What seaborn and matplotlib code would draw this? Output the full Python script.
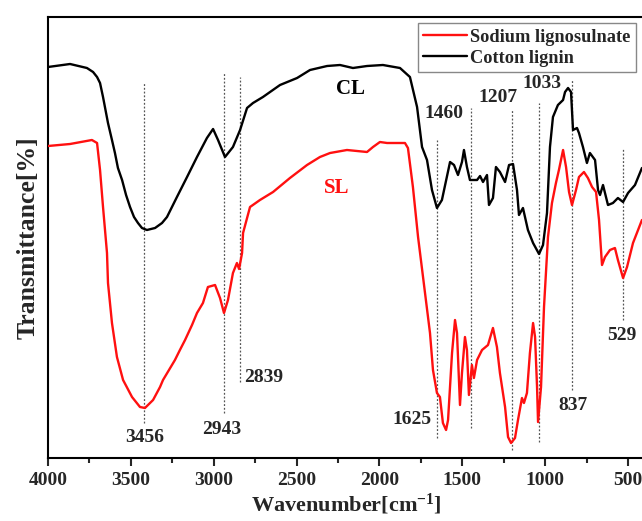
import numpy as np
import pandas as pd
import matplotlib
matplotlib.use("Agg")
import matplotlib.pyplot as plt
import seaborn as sns

# ---- data (wavenumber in cm^-1, transmittance in arbitrary units) ----
cl_wn = [4000, 3867, 3765, 3728, 3704, 3686, 3668, 3638, 3614, 3596, 3578, 3553, 3529, 3505,
         3481, 3457, 3433, 3403, 3354, 3312, 3282, 3252, 3222,
         3161, 3101, 3041, 3004, 2974, 2932, 2884, 2841, 2799, 2763, 2703, 2600, 2497, 2419,
         2316, 2238, 2160, 2075, 1979, 1876, 1816, 1773, 1743, 1713, 1683, 1653, 1623, 1574,
         1550, 1526, 1502, 1490, 1472, 1454, 1411, 1393, 1375, 1351, 1339, 1315, 1297, 1273,
         1242, 1218, 1194, 1170, 1158, 1134, 1104, 1073, 1037, 1013, 989, 971, 953, 923, 892,
         880, 862, 844, 832, 808, 796, 772, 748, 730, 699, 681, 669, 651, 621, 591, 561, 530,
         500, 458, 416]
cl_t = [391, 394, 390, 386, 381, 375, 361, 335, 318, 305, 290, 278, 263, 251,
        241, 235, 230, 228, 230, 235, 241, 251, 261,
        281, 301, 320, 329, 318, 301, 311, 328, 350, 355, 361, 373, 380, 388,
        392, 393, 390, 392, 393, 390, 381, 351, 311, 298, 268, 250, 258, 296,
        293, 283, 296, 308, 291, 278, 278, 282, 276, 283, 253, 260, 291, 286,
        276, 293, 294, 268, 243, 250, 228, 215, 204, 213, 245, 311, 341, 353, 358,
        366, 370, 366, 328, 330, 325, 311, 295, 305, 298, 268, 263, 273, 253, 255, 260, 256,
        265, 273, 290]

sl_wn = [4000, 3867, 3735, 3704, 3686, 3668, 3644, 3638, 3614, 3584, 3547, 3493, 3445, 3415,
         3366, 3324, 3306, 3234, 3204, 3173, 3131, 3101, 3065, 3035, 2992, 2962, 2938, 2914,
         2884, 2860, 2847, 2829, 2823, 2781, 2721, 2642, 2540, 2437, 2359, 2298, 2196, 2075,
         2039, 1997, 1954,
         1846, 1828, 1798, 1767, 1725, 1695, 1677, 1653, 1635, 1617, 1598, 1586, 1562, 1544,
         1532, 1514, 1502, 1484, 1472, 1460, 1442, 1430, 1411, 1381, 1345, 1315, 1291, 1273,
         1242, 1224, 1206, 1182, 1164, 1140, 1128, 1110, 1092, 1073, 1061, 1049, 1043, 1025,
         1007, 983, 959, 935, 917, 892, 874, 856, 838, 814, 796, 766, 742, 717, 693, 675,
         657, 639, 609, 579, 561, 530, 506, 470, 416]
sl_t = [312, 314, 318, 315, 288, 251, 205, 175, 135, 101, 78, 61, 51, 50,
        58, 71, 78, 98, 108, 118, 133, 145, 155, 171, 173, 160, 145, 158,
        185, 195, 189, 205, 225, 251, 258, 266, 280, 293, 301, 305, 308, 306,
        311, 316, 315,
        315, 310, 271, 221, 165, 125, 88, 65, 61, 35, 28, 38, 105, 138,
        125, 53, 85, 121, 108, 63, 93, 80, 98, 108, 113, 130, 111, 85,
        51, 21, 15, 20, 38, 60, 55, 65, 105, 135, 121, 71, 36, 71,
        151, 221, 255, 275, 288, 308, 291, 266, 253, 268, 281, 286, 280, 271, 266, 238,
        193, 201, 208, 210, 198, 180, 191, 215, 238]

series_names = ["Sodium lignosulnate", "Cotton lignin"]
series_colors = ["#ff1010", "#000000"]

# marker (dotted) lines: wavenumber, lower end, upper end
mark_wn = [3421, 2938, 2842, 1653, 1448, 1200, 1037, 838, 530]
mark_lo = [35, 45, 76, 20, 30, 8, 16, 68, 138]
mark_hi = [375, 386, 381, 318, 350, 348, 355, 378, 310]

# peak labels: text, wavenumber, height
peak_text = ["3456", "2943", "2839", "1625", "837", "529", "1460", "1207", "1033"]
peak_wn = [3415, 2950, 2697, 1804, 832, 536, 1611, 1285, 1019]
peak_t = [20, 28, 80, 38, 53, 122, 345, 361, 375]

curve_text = ["CL", "SL"]
curve_wn = [2172, 2256]
curve_t = [369, 270]
curve_col = ["#000000", "#ff1010"]

x_ticks = [4000, 3500, 3000, 2500, 2000, 1500, 1000, 500]

# ---- build table ----
df = pd.concat([
    pd.DataFrame({"wn": sl_wn, "T": sl_t, "sample": series_names[0]}),
    pd.DataFrame({"wn": cl_wn, "T": cl_t, "sample": series_names[1]}),
], ignore_index=True)

sns.set_theme(style="white")
plt.rcParams["font.family"] = ["Liberation Serif", "DejaVu Serif"]
plt.rcParams["font.weight"] = "bold"
plt.rcParams["mathtext.fontset"] = "custom"
plt.rcParams["mathtext.rm"] = "Liberation Serif:bold"
plt.rcParams["mathtext.bf"] = "Liberation Serif:bold"
plt.rcParams["mathtext.default"] = "bf"

fig = plt.figure(figsize=(6.42, 5.21), dpi=100)
ax = fig.add_axes([48 / 642, (521 - 458) / 521, (644.6 - 48) / 642, (458 - 17) / 521])

for w, lo, hi in zip(mark_wn, mark_lo, mark_hi):
    ax.plot([w, w], [lo, hi], color="#555555", lw=0.9, ls=(0, (1.5, 1.5)), zorder=1)

sns.lineplot(data=df, x="wn", y="T", hue="sample", hue_order=series_names,
             palette=series_colors, estimator=None, sort=False, lw=1.7, ax=ax, zorder=3)
for ln in ax.get_lines():
    ln.set_solid_joinstyle("round")

ax.set_xlim(4000, 400)
ax.set_ylim(0, 441)
ax.set_xticks(x_ticks)
ax.set_xticklabels([str(v) for v in x_ticks])
ax.xaxis.set_minor_locator(matplotlib.ticker.MultipleLocator(250))
ax.set_yticks([])
ax.tick_params(axis="x", which="major", direction="out", length=6, width=1.5,
               labelsize=14, pad=4, bottom=True)
ax.tick_params(axis="x", which="minor", direction="out", length=3.5, width=1.5, bottom=True)
for lab in ax.get_xticklabels():
    lab.set_fontweight("bold")
for sp in ax.spines.values():
    sp.set_linewidth(1.5)
    sp.set_color("black")

ax.set_xlabel("Wavenumber[cm$^{-1}$]", fontsize=16, fontweight="bold", labelpad=2)
ax.set_ylabel("Transmittance[%]", fontsize=18.5, fontweight="bold", labelpad=6)

for t, w, y in zip(peak_text, peak_wn, peak_t):
    ax.text(w, y, t, fontsize=14, fontweight="bold", ha="center", va="center", zorder=4)
for t, w, y, c in zip(curve_text, curve_wn, curve_t, curve_col):
    ax.text(w, y, t, fontsize=15, fontweight="bold", color=c, ha="center", va="center", zorder=4)

leg = ax.legend(loc="upper right", bbox_to_anchor=(636 / 642, 1 - 23 / 521),
                bbox_transform=fig.transFigure, borderaxespad=0, frameon=True,
                fancybox=False, framealpha=1, edgecolor="#888888",
                prop={"size": 13.2, "weight": "bold"}, handlelength=2.4,
                handletextpad=0.15, labelspacing=0.22, borderpad=0.3, title=None)
leg.get_frame().set_linewidth(1.0)
for line in leg.get_lines():
    line.set_linewidth(1.7)

fig.savefig("out.png", dpi=100)
